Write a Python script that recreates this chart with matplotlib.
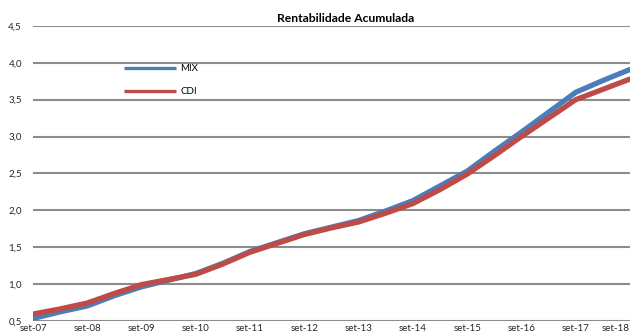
import matplotlib
matplotlib.use("Agg")
import matplotlib.pyplot as plt
from matplotlib.ticker import FuncFormatter, FixedLocator

plt.rcParams['font.family'] = ['Lato', 'DejaVu Sans']

# Semi-annual observations, Sep-2007 to Sep-2018
periods = ["set-07", "mar-08", "set-08", "mar-09", "set-09", "mar-10", "set-10",
           "mar-11", "set-11", "mar-12", "set-12", "mar-13", "set-13", "mar-14",
           "set-14", "mar-15", "set-15", "mar-16", "set-16", "mar-17", "set-17",
           "mar-18", "set-18"]
mix = [0.53, 0.62, 0.70, 0.84, 0.96, 1.05, 1.14, 1.28, 1.44, 1.56, 1.68, 1.77, 1.86,
       1.99, 2.13, 2.33, 2.53, 2.80, 3.06, 3.33, 3.60, 3.76, 3.91]
cdi = [0.59, 0.66, 0.74, 0.87, 0.99, 1.06, 1.13, 1.27, 1.43, 1.55, 1.67, 1.76, 1.84,
       1.96, 2.09, 2.28, 2.49, 2.74, 3.00, 3.25, 3.50, 3.64, 3.78]
tick_labels = periods[::2]

fig = plt.figure(figsize=(6.35, 3.36), dpi=100)
ax = fig.add_axes([33/635, 1 - 320.7/336, 597/635, (320.7 - 26)/336])

x = list(range(len(periods)))
ax.plot(x, mix, color="#4A7EBB", lw=3.8, solid_capstyle="round", label="MIX", zorder=3)
ax.plot(x, cdi, color="#BE4B48", lw=3.8, solid_capstyle="round", label="CDI", zorder=4)

ax.set_xlim(0, len(periods) - 1)
ax.set_ylim(0.5, 4.5)
ax.yaxis.set_major_locator(FixedLocator([0.5 + 0.5 * i for i in range(9)]))
ax.yaxis.set_major_formatter(FuncFormatter(lambda v, p: f"{v:.1f}".replace(".", ",")))
ax.set_xticks(x[::2])
ax.set_xticklabels(tick_labels)
ax.get_xticklabels()[-1].set_horizontalalignment("right")
ax.grid(axis="y", color="#8C8C8C", lw=1.5)
ax.set_axisbelow(True)
for s in ax.spines.values():
    s.set_visible(False)
ax.tick_params(length=0, labelsize=7, colors="#262626")
ax.tick_params(axis="x", pad=2.5)
ax.tick_params(axis="y", pad=8)

ax.set_title("Rentabilidade Acumulada", fontsize=8.7, fontweight="bold",
             x=(346 - 33) / 597, y=1.0, pad=3)

leg = ax.legend(loc="upper left", bbox_to_anchor=(124/635, 1 - 64/336),
                bbox_transform=fig.transFigure, frameon=False, fontsize=7,
                handlelength=5.3, handletextpad=0.5, labelspacing=1.45,
                borderpad=0, borderaxespad=0)
for h in leg.get_lines():
    h.set_linewidth(2.4)
    h.set_solid_capstyle("butt")

fig.savefig("out.png", dpi=100)
